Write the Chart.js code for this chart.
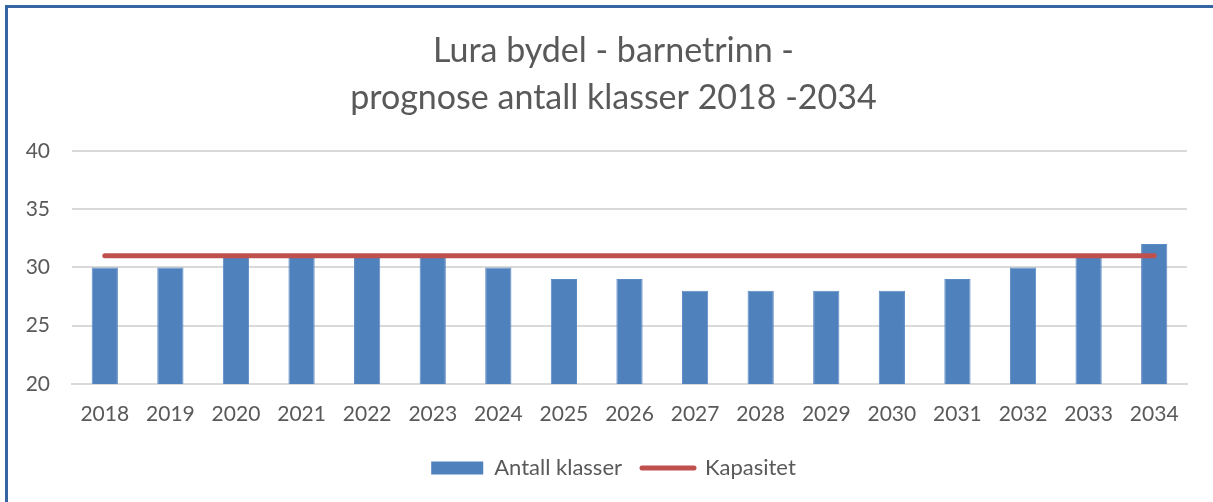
<!DOCTYPE html>
<html>
<head>
<meta charset="utf-8">
<script src="https://cdn.jsdelivr.net/npm/chart.js@4"></script>
<style>
  html, body { margin: 0; padding: 0; background: #fff; }
  #wrap { position: relative; width: 1213px; height: 502px; overflow: hidden; }
  #frame { position: absolute; left: 5px; top: 5px; width: 1300px; height: 600px;
           border-left: 3px solid #3564A2; border-top: 3px solid #3564A2; pointer-events: none; }
  canvas { position: absolute; left: 0; top: 0; }
</style>
</head>
<body>
<div id="wrap">
  <canvas id="chart" width="1213" height="502"></canvas>
  <div id="frame"></div>
</div>
<script>
const years = ['2018', '2019', '2020', '2021', '2022', '2023', '2024', '2025', '2026',
               '2027', '2028', '2029', '2030', '2031', '2032', '2033', '2034'];
const antallKlasser = [30, 30, 31, 31, 31, 31, 30, 29, 29, 28, 28, 28, 28, 29, 30, 31, 32];
const kapasitet = [31, 31, 31, 31, 31, 31, 31, 31, 31, 31, 31, 31, 31, 31, 31, 31, 31];
const titleLines = ['Lura bydel - barnetrinn -', 'prognose antall klasser 2018 -2034'];

const textColor = '#595959';
const fontFamily = 'Lato, "Open Sans", sans-serif';

// the y labels sit in the left padding, so widen their clip box after layout
const widenYAxis = {
    id: 'widenYAxis',
    afterLayout(chart) {
        chart.scales.y.left = 0;
    }
};

new Chart(document.getElementById('chart'), {
    data: {
        labels: years,
        datasets: [
            {
                type: 'line',
                label: 'Kapasitet',
                data: kapasitet,
                borderColor: '#C0504D',
                backgroundColor: '#C0504D',
                borderWidth: 5,
                borderCapStyle: 'round',
                pointRadius: 0,
                order: 0
            },
            {
                type: 'bar',
                label: 'Antall klasser',
                data: antallKlasser,
                backgroundColor: '#4F81BD',
                borderColor: '#5B8AC4',
                borderWidth: 1,
                categoryPercentage: 1,
                barPercentage: 0.4,
                order: 1
            }
        ]
    },
    plugins: [widenYAxis],
    options: {
        responsive: false,
        animation: false,
        layout: { padding: { left: 40, right: 26, top: 0, bottom: 13 } },
        plugins: {
            title: {
                display: true,
                text: titleLines,
                color: textColor,
                font: { family: fontFamily, size: 34, weight: 'normal', lineHeight: 1.38 },
                padding: { top: 28, bottom: 29 }
            },
            legend: {
                position: 'bottom',
                reverse: true,
                labels: {
                    color: textColor,
                    font: { family: fontFamily, size: 22 },
                    usePointStyle: true,
                    pointStyleWidth: 52,
                    boxHeight: 13,
                    padding: 20,
                    generateLabels: chart => chart.data.datasets.map((ds, i) => ({
                        text: ds.label,
                        fillStyle: ds.backgroundColor,
                        strokeStyle: ds.borderColor,
                        lineWidth: ds.type === 'line' ? 5 : 0,
                        lineCap: 'round',
                        pointStyle: ds.type === 'line' ? 'line' : 'rect',
                        fontColor: textColor,
                        datasetIndex: i
                    }))
                }
            },
            tooltip: { enabled: false }
        },
        scales: {
            x: {
                grid: { display: false, drawTicks: false },
                border: { display: true, color: '#D9D9D9', width: 2 },
                ticks: { color: textColor, font: { family: fontFamily, size: 21 }, padding: 18 },
                afterFit: scale => { scale.height = 53; }
            },
            y: {
                min: 20,
                max: 40,
                ticks: { stepSize: 5, color: textColor, font: { family: fontFamily, size: 21 }, padding: 22 },
                grid: { color: '#D9D9D9', lineWidth: 2, drawTicks: false },
                border: { display: false },
                afterFit: scale => { scale.width = 32; }
            }
        }
    }
});
</script>
</body>
</html>
